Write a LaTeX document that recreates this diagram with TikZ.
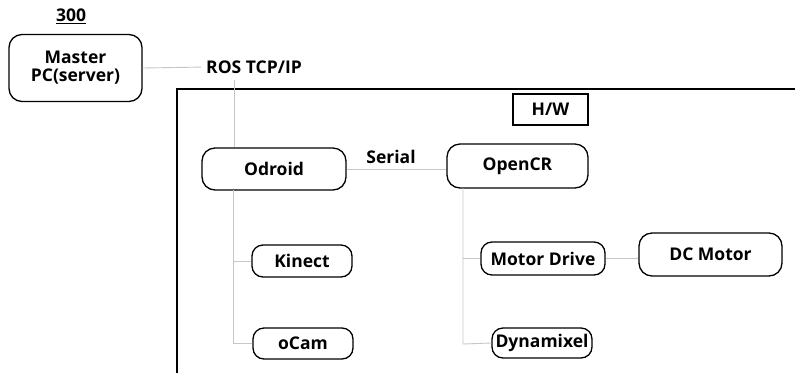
\documentclass[tikz,border=0pt]{standalone}
\usepackage{fontspec}
\setmainfont{Open Sans}
\begin{document}
\begin{tikzpicture}[x=1pt,y=-1pt,
  every node/.style={font=\fontsize{17.5}{18}\selectfont\bfseries, inner sep=0pt, align=center},
  unit/.style={draw=black, line width=1.3pt, rounded corners=13pt},
  link/.style={draw=black!22, line width=0.9pt},
  frame/.style={draw=black, line width=1.2pt}]
\useasboundingbox (0,0) rectangle (795,376);
\fill[white] (0,0) rectangle (795,376);
% frame
\draw[frame] (177,373) -- (177,89) -- (796,89);
\node[frame, minimum width=75pt, minimum height=31pt] (hw) at (550.5,109.5) {H/W};
% nodes
\node (lbl) at (71,16) {\underline{300}};
\node[unit, minimum width=133pt, minimum height=67pt] (master) at (75.5,68) {Master\\PC(server)};
\node (ros) at (254,67) {ROS TCP/IP};
\node[unit, minimum width=144pt, minimum height=42pt] (odroid) at (274,169) {Odroid};
\node (serial) at (391,157) {Serial};
\node[unit, minimum width=141pt, minimum height=44pt] (opencr) at (517.5,166) {OpenCR};
\node[unit, rounded corners=11pt, minimum width=100pt, minimum height=32pt] (kinect) at (302,261) {Kinect};
\node[unit, rounded corners=11pt, minimum width=100pt, minimum height=31pt] (ocam) at (303,343.5) {oCam};
\node[unit, rounded corners=11pt, minimum width=124pt, minimum height=33pt] (mdrive) at (543,258.5) {Motor Drive};
\node[unit, rounded corners=11pt, minimum width=100pt, minimum height=30pt] (dyn) at (542,343) {Dynamixel};
\node[unit, minimum width=143pt, minimum height=43pt] (dcm) at (710.5,254.5) {DC Motor};
% connectors
\coordinate (rosbot) at (234,80);
\draw[link, shorten >=5pt] (master.east) -- (ros.west);
\draw[link] (rosbot) -- (rosbot |- odroid.north);
\draw[link] (odroid.east) -- (odroid.east -| opencr.west);
\draw[link] (233,190) -- (233,343.5) -- (ocam.west);
\draw[link] (233,261) -- (kinect.west);
\draw[link] (463,188) -- (463,344) -- (dyn.west);
\draw[link] (463,258.5) -- (mdrive.west);
\draw[link] (mdrive.east) -- (mdrive.east -| dcm.west);
\end{tikzpicture}
\end{document}
